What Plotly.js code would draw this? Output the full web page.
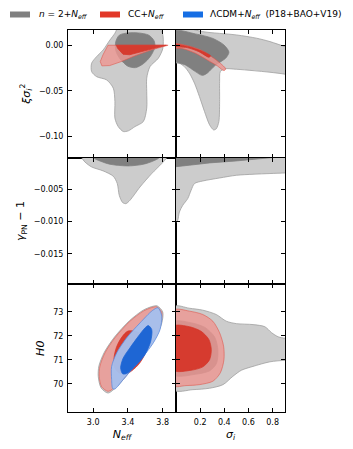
<!DOCTYPE html>
<html>
<head>
<meta charset="utf-8">
<script src="https://cdn.plot.ly/plotly-3.0.1.min.js"></script>
<style>
  body { margin: 0; background: #fff; }
  #chart { width: 353px; height: 449px; }
</style>
</head>
<body>
<div id="chart"></div>
<script>
// Triangle plot: n=2+Neff, CC+Neff and LCDM+Neff contours
// Contour outlines (x = column parameter, y = row parameter)

// --- top left: Neff vs xi*sigma^2 ---
const tlGrayOuterNeff = [3.29, 3.45, 3.65, 3.76, 3.80, 3.807, 3.80, 3.75, 3.654, 3.616, 3.616, 3.616, 3.577, 3.481, 3.404, 3.346, 3.288, 3.250, 3.250, 3.231, 3.155, 3.039, 2.982, 2.982, 3.039, 3.115, 3.193, 3.250, 3.29];
const tlGrayOuterXi = [0.020, 0.025, 0.025, 0.020, 0.012, 0.004, -0.004, -0.0142, -0.0234, -0.0361, -0.0508, -0.0689, -0.0836, -0.0891, -0.0938, -0.0945, -0.0891, -0.0799, -0.0617, -0.0470, -0.0380, -0.0344, -0.0289, -0.0197, -0.0125, -0.0051, 0.0058, 0.0131, 0.020];
const tlGrayInnerNeff = [3.26, 3.30, 3.40, 3.52, 3.64, 3.70, 3.71, 3.66, 3.58, 3.49, 3.40, 3.31, 3.26, 3.26];
const tlGrayInnerXi = [0.004, 0.011, 0.0135, 0.0135, 0.011, 0.005, -0.002, -0.012, -0.020, -0.0245, -0.023, -0.015, -0.006, 0.004];
const tlRedOuterNeff = [3.170, 3.45, 3.70, 3.862, 3.669, 3.477, 3.323, 3.189, 3.100, 3.081, 3.112, 3.150, 3.170];
const tlRedOuterXi = [0, 0, 0, 0, -0.0051, -0.0117, -0.0179, -0.0223, -0.0226, -0.0179, -0.0106, -0.0033, 0];
const tlRedInnerNeff = [3.266, 3.50, 3.842, 3.689, 3.535, 3.420, 3.343, 3.305, 3.280, 3.266];
const tlRedInnerXi = [0, 0, 0, -0.0037, -0.0077, -0.0104, -0.0099, -0.0064, -0.0032, 0];

// --- top right: sigma_i vs xi*sigma^2 ---
const trGrayOuterSig = [-0.02, 0.10, 0.222, 0.500, 0.667, 0.778, 0.903, 0.95, 0.95, 0.903, 0.778, 0.638, 0.500, 0.403, 0.367, 0.361, 0.361, 0.355, 0.333, 0.311, 0.278, 0.236, 0.194, 0.153, 0.111, 0.069, 0.028, -0.02, -0.02];
const trGrayOuterXi = [0.025, 0.019, 0.0149, 0.0113, 0.0077, 0.0040, -0.0015, -0.003, -0.033, -0.0317, -0.0296, -0.0278, -0.0263, -0.0259, -0.0289, -0.0398, -0.0617, -0.0836, -0.0916, -0.0927, -0.0872, -0.0726, -0.0562, -0.0416, -0.0306, -0.0234, -0.0197, -0.0186, 0.025];
const trGrayInnerSig = [-0.02, 0.161, 0.300, 0.397, 0.438, 0.411, 0.328, 0.258, 0.217, 0.161, 0.078, -0.02, -0.02];
const trGrayInnerXi = [0.0155, 0.0124, 0.0077, 0.0003, -0.0075, -0.0142, -0.0216, -0.0306, -0.0330, -0.0289, -0.0216, -0.0165, 0.0155];
const trRedOuterSig = [-0.02, 0.105, 0.217, 0.313, 0.383, 0.411, 0.397, 0.342, 0.258, 0.161, 0.064, -0.02, -0.02];
const trRedOuterXi = [0.0016, -0.0008, -0.0059, -0.0142, -0.0216, -0.0259, -0.0278, -0.0226, -0.0161, -0.0088, -0.0040, -0.0026, 0.0016];
const trRedInnerSig = [-0.02, 0.105, 0.217, 0.286, 0.272, 0.189, 0.092, -0.02, -0.02];
const trRedInnerXi = [0.0010, -0.0015, -0.0066, -0.0117, -0.0131, -0.0070, -0.0026, -0.0011, 0.0010];

// --- middle left: Neff vs gamma_PN - 1 ---
const mlGrayOuterNeff = [2.84, 2.866, 2.904, 2.982, 3.115, 3.231, 3.277, 3.300, 3.339, 3.377, 3.423, 3.539, 3.674, 3.789, 3.847, 3.87, 2.84];
const mlGrayOuterGam = [0.001, 0, -0.00069, -0.00147, -0.00209, -0.00292, -0.00406, -0.00589, -0.00703, -0.00719, -0.00667, -0.00459, -0.00250, -0.00094, 0, 0.001, 0.001];
const mlGrayInnerNeff = [2.98, 3.0, 3.077, 3.193, 3.404, 3.577, 3.692, 3.761, 3.78, 2.98];
const mlGrayInnerGam = [0.001, 0, -0.00053, -0.00105, -0.00131, -0.00105, -0.00053, 0, 0.001, 0.001];

// --- middle right: sigma_i vs gamma_PN - 1 ---
const mrGrayOuterSig = [-0.02, 0.95, 0.95, 0.903, 0.778, 0.638, 0.500, 0.361, 0.222, 0.153, 0.125, 0.097, 0.056, 0.028, 0.014, 0.0, -0.02, -0.02];
const mrGrayOuterGam = [0.001, 0.001, -0.0024, -0.00241, -0.0025, -0.00261, -0.00277, -0.00319, -0.00366, -0.00406, -0.00511, -0.00641, -0.00745, -0.0085, -0.0098, -0.0101, -0.0102, 0.001];
const mrGrayInnerSig = [-0.02, -0.02, 0.111, 0.278, 0.5, 0.667, 0.805, 0.85, -0.02];
const mrGrayInnerGam = [0.001, -0.00147, -0.0012, -0.00084, -0.00053, -0.00027, 0, 0.001, 0.001];

// --- bottom left: Neff vs H0 ---
const blGrayOuterNeff = [3.735, 3.80, 3.79, 3.72, 3.58, 3.42, 3.27, 3.17, 3.09, 3.058, 3.066, 3.127, 3.245, 3.42, 3.575, 3.675, 3.735];
const blGrayOuterH0 = [73.25, 73.0, 72.54, 71.97, 71.2, 70.5, 69.88, 69.62, 69.84, 70.32, 70.75, 71.31, 71.95, 72.64, 73.07, 73.22, 73.25];
const blRedOuterNeff = [3.731, 3.789, 3.777, 3.712, 3.577, 3.423, 3.270, 3.173, 3.097, 3.069, 3.077, 3.135, 3.250, 3.423, 3.577, 3.674, 3.731];
const blRedOuterH0 = [73.21, 72.98, 72.54, 71.98, 71.22, 70.53, 69.93, 69.69, 69.88, 70.32, 70.73, 71.29, 71.92, 72.61, 73.03, 73.18, 73.21];
const blRedInnerNeff = [3.40, 3.33, 3.27, 3.24, 3.245, 3.30, 3.40, 3.52, 3.60, 3.60, 3.52, 3.40];
const blRedInnerH0 = [72.2, 71.95, 71.55, 71.1, 70.7, 70.45, 70.45, 70.8, 71.3, 71.8, 72.15, 72.2];
const blBlueOuterNeff = [3.746, 3.789, 3.769, 3.692, 3.577, 3.461, 3.346, 3.250, 3.225, 3.212, 3.212, 3.270, 3.385, 3.539, 3.68, 3.746];
const blBlueOuterH0 = [73.17, 72.82, 72.26, 71.71, 71.15, 70.67, 70.18, 69.79, 69.80, 70.18, 70.73, 71.29, 71.92, 72.54, 73.05, 73.17];
const blBlueInnerNeff = [3.635, 3.674, 3.662, 3.596, 3.500, 3.385, 3.339, 3.316, 3.346, 3.423, 3.519, 3.596, 3.635];
const blBlueInnerH0 = [72.43, 72.26, 71.78, 71.22, 70.80, 70.43, 70.42, 70.67, 71.08, 71.50, 71.98, 72.33, 72.43];

// --- bottom right: sigma_i vs H0 ---
const brGrayOuterSig = [-0.02, 0.111, 0.222, 0.333, 0.417, 0.500, 0.638, 0.736, 0.792, 0.847, 0.903, 0.95, 0.95, 0.903, 0.778, 0.638, 0.542, 0.472, 0.389, 0.278, 0.139, -0.02, -0.02];
const brGrayOuterH0 = [73.22, 73.15, 73.07, 72.89, 72.61, 72.51, 72.47, 72.38, 72.13, 71.96, 71.90, 71.88, 70.97, 70.98, 70.92, 70.73, 70.57, 70.32, 69.97, 69.82, 69.76, 69.75, 73.22];
const brGrayInnerSig = [-0.02, 0.12, 0.24, 0.32, 0.347, 0.335, 0.28, 0.16, -0.02, -0.02];
const brGrayInnerH0 = [72.58, 72.55, 72.35, 71.95, 71.4, 70.85, 70.55, 70.4, 70.38, 72.58];
const brRedOuterSig = [-0.02, 0.111, 0.222, 0.305, 0.361, 0.394, 0.397, 0.367, 0.305, 0.194, 0.083, -0.02, -0.02];
const brRedOuterH0 = [73.07, 73.03, 72.89, 72.61, 72.13, 71.57, 71.01, 70.46, 70.11, 69.97, 69.93, 69.93, 73.07];
const brRedInnerSig = [-0.02, 0.111, 0.208, 0.272, 0.292, 0.278, 0.222, 0.125, -0.02, -0.02];
const brRedInnerH0 = [72.40, 72.38, 72.19, 71.85, 71.43, 71.01, 70.71, 70.57, 70.57, 72.40];

// legend
const legendLabels = [
    '<i>n</i> = 2+<i>N</i><sub><i>eff</i></sub>',
    'CC+<i>N</i><sub><i>eff</i></sub>',
    'ΛCDM+<i>N</i><sub><i>eff</i></sub>\u00a0\u00a0(P18+BAO+V19)'
];

// tick values
const neffTicks = [3.0, 3.4, 3.8];
const sigTicks = [0.2, 0.4, 0.6, 0.8];
const xiTicks = [-0.10, -0.05, 0.00];
const gamTicks = [-0.015, -0.010, -0.005];
const h0Ticks = [70, 71, 72, 73];

// colours
const grayOuter = 'rgb(204,204,204)';
const grayEdge = 'rgb(160,160,160)';
const grayInner = 'rgb(128,128,128)';
const redOuter = 'rgba(238,150,145,0.8)';
const redEdge = 'rgba(225,80,70,0.7)';
const redInner = 'rgba(214,55,42,0.95)';
const blueOuter = 'rgba(164,192,238,0.95)';
const blueEdge = 'rgb(95,140,220)';
const blueInner = 'rgb(30,102,212)';
const legendColors = [grayInner, 'rgb(226,56,40)', 'rgb(22,110,228)'];

function contour(xs, ys, fill, edge, panel, shape) {
    const id = panel > 1 ? String(panel) : '';
    return {
        x: xs, y: ys,
        type: 'scatter', mode: 'lines',
        fill: 'toself', fillcolor: fill,
        line: { color: edge, width: edge ? 0.8 : 0, shape: shape || 'spline', smoothing: 0.8 },
        xaxis: 'x' + id, yaxis: 'y' + id,
        hoverinfo: 'skip', showlegend: false
    };
}

const traces = [
    // top left
    contour(tlGrayOuterNeff, tlGrayOuterXi, grayOuter, grayEdge, 1),
    contour(tlGrayInnerNeff, tlGrayInnerXi, grayInner, grayInner, 1),
    contour(tlRedOuterNeff, tlRedOuterXi, redOuter, redEdge, 1, 'linear'),
    contour(tlRedInnerNeff, tlRedInnerXi, redInner, redInner, 1, 'linear'),
    // top right
    contour(trGrayOuterSig, trGrayOuterXi, grayOuter, grayEdge, 2),
    contour(trGrayInnerSig, trGrayInnerXi, grayInner, grayInner, 2),
    contour(trRedOuterSig, trRedOuterXi, redOuter, redEdge, 2),
    contour(trRedInnerSig, trRedInnerXi, redInner, redInner, 2),
    // middle left
    contour(mlGrayOuterNeff, mlGrayOuterGam, grayOuter, grayEdge, 3),
    contour(mlGrayInnerNeff, mlGrayInnerGam, grayInner, grayInner, 3),
    // middle right
    contour(mrGrayOuterSig, mrGrayOuterGam, grayOuter, grayEdge, 4),
    contour(mrGrayInnerSig, mrGrayInnerGam, grayInner, grayInner, 4, 'linear'),
    // bottom left
    contour(blGrayOuterNeff, blGrayOuterH0, grayOuter, grayEdge, 5),
    contour(blRedOuterNeff, blRedOuterH0, redOuter, redEdge, 5),
    contour(blRedInnerNeff, blRedInnerH0, redInner, redInner, 5),
    contour(blBlueOuterNeff, blBlueOuterH0, blueOuter, blueEdge, 5),
    contour(blBlueInnerNeff, blBlueInnerH0, blueInner, blueInner, 5),
    // bottom right
    contour(brGrayOuterSig, brGrayOuterH0, grayOuter, grayEdge, 6),
    contour(brGrayInnerSig, brGrayInnerH0, grayInner, grayInner, 6),
    contour(brRedOuterSig, brRedOuterH0, redOuter, redEdge, 6),
    contour(brRedInnerSig, brRedInnerH0, redInner, redInner, 6)
];

// panel geometry (paper fractions)
const colDomains = [[0, 0.4977], [0.4977, 1]];
const rowDomains = [[0.6662, 1], [0.3338, 0.6662], [0, 0.3338]];
const colRanges = [[2.71, 3.953], [0, 0.9025]];
const rowRanges = [[-0.123, 0.0167], [-0.0198, 0], [68.83, 74.14]];
const colTicks = [neffTicks, sigTicks];
const rowTicks = [xiTicks, gamTicks, h0Ticks];
const colFormats = ['.1f', '.1f'];
const rowFormats = ['.2f', '.3f', 'd'];
const colTitles = ['<i>N</i><sub><i>eff</i></sub>', '<i>σ</i><sub><i>i</i></sub>'];
const rowTitles = ['<i>ξσ</i><sub><i>i</i></sub><sup>2</sup>', '<i>γ</i><sub>PN</sub> − 1', '<i>H0</i>'];

const tickFont = { family: 'DejaVu Sans', size: 8, color: '#000' };
const titleFont = { family: 'DejaVu Sans', size: 11, color: '#000' };

function baseAxis() {
    return {
        showline: true, linecolor: '#000', linewidth: 1, mirror: 'ticks',
        ticks: 'inside', ticklen: 4, tickwidth: 1, tickcolor: '#000',
        showgrid: false, zeroline: false, tickfont: tickFont,
        ticklabelstandoff: 2, fixedrange: true
    };
}

const layout = {
    width: 353, height: 449,
    margin: { l: 68, r: 68, t: 30, b: 37 },
    paper_bgcolor: '#fff', plot_bgcolor: 'rgba(0,0,0,0)',
    showlegend: false,
    font: { family: 'DejaVu Sans', color: '#000' },
    shapes: [], annotations: []
};

for (let r = 0; r < 3; r++) {
    for (let c = 0; c < 2; c++) {
        const p = r * 2 + c + 1;
        const id = p > 1 ? String(p) : '';
        const xa = baseAxis();
        xa.domain = colDomains[c];
        xa.range = colRanges[c];
        xa.anchor = 'y' + id;
        xa.tickvals = colTicks[c];
        xa.tickformat = colFormats[c];
        xa.showticklabels = (r === 2);
        if (r === 2) xa.title = { text: colTitles[c], font: titleFont, standoff: 4 };
        const ya = baseAxis();
        ya.domain = rowDomains[r];
        ya.range = rowRanges[r];
        ya.anchor = 'x' + id;
        ya.tickvals = rowTicks[r];
        ya.tickformat = rowFormats[r];
        ya.showticklabels = (c === 0);
        if (c === 0) ya.title = { text: rowTitles[r], font: titleFont, standoff: 6 };
        layout['xaxis' + id] = xa;
        layout['yaxis' + id] = ya;
    }
}

// legend row above the panels
const legendPatchX = [10, 100, 183];
const legendTextX = [37, 126, 208];
const plotLeft = 68, plotWidth = 217, plotBottom = 412, plotHeight = 382;
const px = v => (v - plotLeft) / plotWidth;
const py = v => (plotBottom - v) / plotHeight;
legendLabels.forEach((label, i) => {
    layout.shapes.push({
        type: 'rect', xref: 'paper', yref: 'paper',
        x0: px(legendPatchX[i]), x1: px(legendPatchX[i] + 20),
        y0: py(17.5), y1: py(11.5),
        fillcolor: legendColors[i], line: { width: 0 }
    });
    layout.annotations.push({
        text: label, xref: 'paper', yref: 'paper',
        x: px(legendTextX[i]), y: py(14.5),
        xanchor: 'left', yanchor: 'middle', showarrow: false,
        font: { family: 'DejaVu Sans', size: 9, color: '#000' }
    });
});

Plotly.newPlot('chart', traces, layout, { displayModeBar: false, staticPlot: true });
</script>
</body>
</html>
